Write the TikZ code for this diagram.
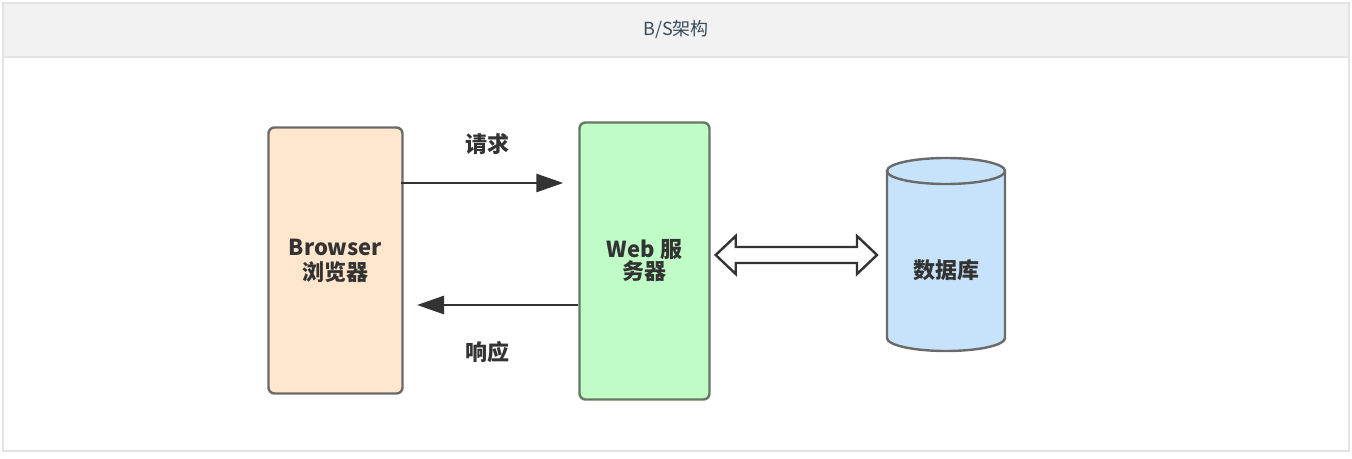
\documentclass[tikz,border=0pt]{standalone}
\usepackage{fontspec}
\setmainfont{Noto Sans CJK SC}
\usetikzlibrary{arrows.meta,calc}
\definecolor{framegray}{HTML}{E3E3E3}
\definecolor{headfill}{HTML}{F2F2F2}
\definecolor{titlecol}{HTML}{3A4A5C}
\definecolor{strokegray}{HTML}{6A6A6A}
\definecolor{browserfill}{HTML}{FFE6CC}
\definecolor{webfill}{HTML}{BFFCC6}
\definecolor{webstroke}{HTML}{667766}
\definecolor{dbfill}{HTML}{C7E3FB}
\definecolor{inkgray}{HTML}{333333}
\tikzset{
  boxnode/.style={draw=strokegray, line width=2.4pt, rounded corners=6pt, align=center,
    font=\fontsize{22}{25}\selectfont\bfseries, text=inkgray, inner sep=0pt},
  labeltext/.style={font=\fontsize{22}{25}\selectfont\bfseries, text=inkgray},
  flowarrow/.style={draw=inkgray, line width=2.8pt, -{Triangle[length=27pt,width=18pt]}},
}
\begin{document}
\begin{tikzpicture}[x=1pt,y=-1pt]
\useasboundingbox (0,0) rectangle (1352,458);
% frame
\fill[white] (0,0) rectangle (1352,458);
\draw[framegray, line width=1.5pt, fill=headfill] (3,3) rectangle (1349,57);
\draw[framegray, line width=1.5pt] (3,57) rectangle (1349,451);
\node[font=\fontsize{18}{20}\selectfont, text=titlecol] (title) at (676,30) {B/S架构};
% boxes
\node[boxnode, fill=browserfill, minimum width=134pt, minimum height=266pt] (brow) at (335.5,260.5) {Browser\\浏览器};
\node[boxnode, fill=webfill, draw=webstroke, minimum width=130pt, minimum height=277pt] (web) at (644.5,261) {\raisebox{-6pt}{Web 服}\\[-3pt]\raisebox{-6pt}{务器}};
% database cylinder
\coordinate (dbtl) at (887,171);
\coordinate (dbbl) at (887,338);
\fill[dbfill] (887,171) -- (887,338) arc[start angle=180,end angle=360,x radius=59pt,y radius=13pt] -- (1005,171) arc[start angle=0,end angle=180,x radius=59pt,y radius=13pt] -- cycle;
\draw[strokegray, line width=2.4pt] (887,171) -- (887,338) arc[start angle=180,end angle=360,x radius=59pt,y radius=13pt] -- (1005,171);
\draw[strokegray, line width=2.4pt] (946,171) ellipse[x radius=59pt,y radius=13pt];
\node[font=\fontsize{22}{25}\selectfont\bfseries, text=inkgray] (db) at (946,270) {数据库};
% request / response
\draw[flowarrow] ([xshift=-3pt]brow.east |- 0,183) -- ([xshift=-15pt]web.west |- 0,183);
\node[labeltext] (req) at (487,144) {请求};
\draw[flowarrow] (web.west |- 0,305) -- (417,305);
\node[labeltext] (resp) at (487,352) {响应};
% hollow double arrow between web server and database
\coordinate (dl) at ([xshift=5pt]web.east |- 0,255);
\coordinate (dr) at ([xshift=-10pt]dbtl |- 0,255);
\draw[inkgray, line width=2.4pt, fill=white, line join=miter]
  (dl) -- ++(20,-19) -- ++(0,11) -- ($(dr)+(-20,-8)$) -- ++(0,-11) -- (dr)
  -- ++(-20,19) -- ++(0,-11) -- ($(dl)+(20,8)$) -- ++(0,11) -- cycle;
\end{tikzpicture}
\end{document}
